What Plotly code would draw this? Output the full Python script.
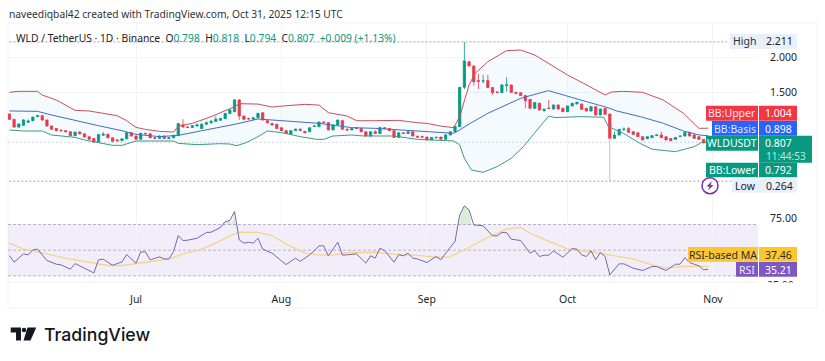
import pandas as pd
import plotly.graph_objects as go

BASE = pd.Timestamp("2025-07-01")
def dates(days):
    return [BASE + pd.Timedelta(days=float(d)) for d in days]

candle_days = list(range(-27, 123))
opens = [1.203,1.128,1.02,1.045,1.087,1.11,1.165,1.18,1.119,1.035,
         1.0,.975,.97,.955,.90,.95,.925,.885,.86,.81,
         .905,.92,.87,.84,.83,.855,.94,.895,.85,.93,
         .925,.87,.862,.895,.86,.87,.90,1.05,1.02,1.015,
         1.035,1.0,1.06,1.08,1.10,1.115,1.14,1.21,1.235,1.40,
         1.174,1.14,1.13,1.15,1.22,1.109,1.07,1.06,1.01,.97,
         .92,.97,.99,.96,.955,1.03,1.025,1.09,1.08,.98,
         1.05,1.11,.99,.98,1.01,1.0,.955,.895,.955,.93,
         1.01,1.0,.97,.875,.94,.93,.955,.89,.885,.88,
         .84,.87,.88,.85,.91,.955,1.026,1.576,1.935,1.874,
         1.67,1.665,1.67,1.572,1.51,1.502,1.60,1.609,1.506,1.50,
         1.46,1.408,1.283,1.353,1.25,1.285,1.273,1.329,1.283,1.236,
         1.315,1.343,1.342,1.282,1.244,1.305,1.19,1.282,1.202,.862,
         .909,.99,.998,.955,.94,.886,.858,.872,.90,.91,
         .885,.86,.848,.89,.895,.945,.91,.885,.848,.798]
closes = [1.128,1.02,1.063,1.119,1.105,1.16,1.18,1.119,1.035,.99,
          .97,.97,.955,.90,.95,.925,.88,.85,.81,.915,
          .92,.87,.82,.83,.855,.94,.895,.85,.932,.925,
          .87,.865,.895,.86,.87,.905,1.07,1.02,1.015,1.04,
          1.05,1.06,1.08,1.10,1.13,1.14,1.21,1.26,1.40,1.175,
          1.128,1.135,1.15,1.212,1.118,1.08,1.05,1.0,.97,.93,
          .97,.99,.975,.94,1.01,1.035,1.09,1.085,.98,1.05,
          1.118,.99,.98,1.0,1.0,.955,.895,.955,.93,1.015,
          1.0,.97,.875,.94,.93,.955,.895,.88,.88,.84,
          .875,.875,.85,.91,.955,1.03,1.576,1.945,1.874,1.655,
          1.66,1.665,1.572,1.502,1.505,1.609,1.61,1.506,1.49,1.46,
          1.39,1.283,1.362,1.26,1.27,1.28,1.329,1.273,1.236,1.315,
          1.353,1.367,1.268,1.244,1.305,1.19,1.272,1.198,.862,.909,
          .988,.99,.946,.918,.886,.84,.886,.90,.91,.872,
          .84,.83,.876,.895,.945,.895,.862,.848,.798,.807]
highs = [1.21,1.13,1.07,1.13,1.125,1.165,1.19,1.19,1.125,1.04,
         1.005,.99,.98,.96,.955,.965,.93,.89,.865,.925,
         .95,.925,.875,.85,.86,.95,.955,.90,.94,.945,
         .935,.88,.905,.90,.88,.91,1.07,1.13,1.03,1.05,
         1.07,1.07,1.10,1.12,1.17,1.15,1.22,1.27,1.41,1.41,
         1.18,1.15,1.16,1.215,1.225,1.115,1.08,1.065,1.015,.975,
         .975,1.0,1.0,.965,1.015,1.045,1.095,1.10,1.09,1.055,
         1.125,1.12,1.0,1.005,1.015,1.005,.96,.96,.975,1.02,
         1.02,1.005,.975,.945,.945,.96,.96,.90,.90,.885,
         .88,.89,.885,.915,.96,1.035,1.58,2.211,1.94,1.88,
         1.76,1.75,1.75,1.58,1.52,1.62,1.716,1.61,1.51,1.505,
         1.47,1.41,1.37,1.36,1.28,1.40,1.335,1.335,1.29,1.32,
         1.36,1.375,1.35,1.29,1.31,1.31,1.28,1.29,1.21,.96,
         .995,1.015,1.02,.96,.945,.89,.89,.905,.915,.955,
         .89,.865,.88,.90,.95,.96,.915,.89,.853,.818]
lows = [1.12,1.015,1.015,1.04,1.08,1.10,1.16,1.11,1.03,.985,
        .96,.96,.95,.895,.895,.92,.875,.845,.80,.805,
        .90,.865,.815,.82,.825,.85,.89,.845,.845,.92,
        .865,.86,.855,.855,.855,.865,.895,1.015,1.01,1.01,
        1.03,.995,1.05,1.07,1.09,1.11,1.135,1.20,1.23,1.12,
        1.115,1.12,1.125,1.145,1.115,1.07,1.04,.995,.965,.925,
        .915,.965,.97,.935,.95,1.025,1.02,1.075,.975,.975,
        1.045,.985,.97,.975,.995,.95,.89,.89,.925,.925,
        .995,.965,.87,.87,.925,.925,.89,.875,.87,.835,
        .835,.865,.845,.845,.905,.95,1.02,1.55,1.87,1.60,
        1.55,1.63,1.565,1.47,1.50,1.49,1.515,1.50,1.48,1.455,
        1.28,1.27,1.27,1.25,1.235,1.27,1.265,1.265,1.23,1.23,
        1.31,1.34,1.26,1.24,1.24,1.18,1.185,1.19,.862,.855,
        .905,.965,.94,.915,.88,.835,.855,.868,.895,.868,
        .835,.825,.845,.885,.89,.89,.858,.843,.793,.794]
long_wick_days = [101, 101]
long_wick_vals = [.862, .264]

upper_days = [-27,-25,-21,-20,-17,-13,-10,-7,-4,-2,0,2,5,8,9,12,16,21,22,26,29,32,36,39,41,45,47,51,56,60,62,65,67.7,69,71,72.3,75,79,82,85,89,92,95.4,98.2,100,101.4,103.9,108,112.4,116.7,120,122]
upper_vals = [1.506,1.52,1.52,1.468,1.398,1.254,1.245,1.207,1.179,1.109,1.016,.988,.96,.951,1.035,1.072,1.165,1.305,1.347,1.342,1.30,1.319,1.338,1.328,1.221,1.175,1.109,1.109,1.114,1.081,1.072,1.034,1.012,1.166,1.609,1.772,1.935,2.089,2.098,2.028,1.865,1.749,1.632,1.539,1.469,1.511,1.52,1.506,1.399,1.213,1.003,1.004]
basis_days = [-27,-21,-18,-13,-8,-3,0,5,9,14,21,26,32,39,46,51,60,65,67.7,69,71,75,82,87.9,91,96,100.4,102.5,107.5,112.4,116.7,120,122]
basis_vals = [1.245,1.24,1.189,1.109,1.039,.969,.918,.886,.904,.969,1.058,1.133,1.109,1.072,1.012,1.002,.965,.941,.933,.979,1.063,1.212,1.422,1.53,1.469,1.376,1.296,1.245,1.166,1.073,.965,.91,.898]
lower_days = [-27,-24,-20,-18,-13,-11,-8,-5,-3,0,8,9,13,18,20,21.5,23.6,26,28,31,35,38.5,40,42,46,48.5,55,60,67.7,69,70,71.5,74,77,80,82.6,85.5,88,89.3,94.7,99.7,100.7,103.9,107.5,110,115,119,121,122]
lower_vals = [.979,.965,.965,.909,.876,.839,.802,.764,.764,.825,.825,.792,.774,.788,.783,.76,.806,.886,.965,.942,.886,.848,.848,.895,.909,.895,.895,.848,.826,.77,.583,.42,.387,.467,.583,.746,.98,1.175,1.152,1.166,1.157,1.026,.933,.79,.71,.676,.746,.82,.792]

rsi_days = [-27,-26,-24,-23,-22,-21,-19,-17,-16,-14,-13,-12,-9,-8,-7,-5,-3,-2,0,1,2,3,5,6,7,8,9,10,11,13,15,16,18,19,20,21,22,23,24,25,26,27,29,31,32,34,35,37,38,39,40,41,43,44,47,49,50,51,52,53,55,56,57,58,59,60,62,64,65,66,68,69,70,71,72,74,76,77,78,79,80,82,84,85,86,87,88,89,91,93,94,95,96,97,98,99,100,101,103,104,106,108,110,111,113,115,116,117,118,120,121,122]
rsi_vals = [45.8,40.7,47.1,46.4,50.3,50.8,42,39.1,38.6,35.2,39.6,37.8,32.3,42.5,43,38.3,40.9,46.6,39.9,48.7,48.7,42.5,44.8,43.2,43.2,49,61.4,57.5,57.8,59.3,63.8,64,67.7,72.3,73.1,80.1,58,55.5,56.2,55.5,59.3,50.8,47.7,41.7,38.8,43.8,41.2,46.4,49.5,53.4,53.4,45.6,56.2,46.1,47.1,39.9,45.6,43.8,51.6,49.7,40.7,46.6,45.6,47.7,43.8,43.2,40.4,45.1,42.5,47.7,56.8,77.5,84.5,81.4,69.7,69,61.2,61.2,63.8,63.8,58.6,57.5,47.7,49.7,45.1,46.1,46.1,49.5,44.5,51.3,50.8,46.4,45.1,49.5,42.5,48.2,45.1,30.8,39.4,39.4,36,34.2,37.3,37.3,34.2,39.1,39.1,44.3,40.4,37.8,34.7,35.21]
rsi_ma_days = [-27,-24,-22,-19,-15,-10.6,-6,-3,1,4,7,10,14,17,20,22,26,29,32,36,39,42,45,51,56,60.6,64,66.9,70,75,79,82,84,88,92,97.5,103,106,110,113,116.7,122]
rsi_ma_vals = [55.5,50.8,49.5,47.1,43.8,40.9,38.1,38.1,39.9,41.7,43,47.1,50.8,55.5,61.2,64,63.8,61.4,54.7,47.7,46.1,46.1,48.2,48.4,46.6,45.8,44.5,44.8,50.3,60.1,66.4,67.7,63.2,56.8,51,48.4,45.1,43.2,38.6,36,37.3,37.46]
overbought_days = [18.6,19,20,20.4,21,21.2,68.9,69,70,71,71.5]
overbought_vals = [70,72.3,73.1,70,80.1,70,70,77.5,84.5,81.4,70]

month_ticks = ["2025-07-01","2025-08-01","2025-09-01","2025-10-01","2025-11-01"]
month_labels = ["Jul","Aug","Sep","Oct","Nov"]
price_ticks = [2.0, 1.5]
price_labels = ["2.000","1.500"]
rsi_ticks = [75]
rsi_labels = ["75.00"]

GREEN, RED, BLUE, PURPLE, YELLOW = "#089981","#f23645","#2962ff","#7e57c2","#fdc62f"
PL, PR, PT, PB = 8, 758, 23, 282
W, H = 825, 361
def px(x): return (x-PL)/(PR-PL)
def py(y): return 1-(y-PT)/(PB-PT)
SPLIT = 190
FONT = "Noto Sans"

fig = go.Figure()
fig.add_trace(go.Scatter(x=dates(upper_days), y=upper_vals, mode="lines", line=dict(color="#c9505b", width=1), hoverinfo="skip"))
fig.add_trace(go.Scatter(x=dates(lower_days), y=lower_vals, mode="lines", line=dict(color="#3d9a87", width=1),
                         fill="tonexty", fillcolor="rgba(33,150,243,0.05)", hoverinfo="skip"))
fig.add_trace(go.Scatter(x=dates(basis_days), y=basis_vals, mode="lines", line=dict(color="#3f6fc4", width=1), hoverinfo="skip"))
fig.add_trace(go.Scatter(x=dates(long_wick_days), y=long_wick_vals, mode="lines", line=dict(color="#e9b4ba", width=1), hoverinfo="skip"))
fig.add_trace(go.Candlestick(x=dates(candle_days), open=opens, high=highs, low=lows, close=closes,
    increasing=dict(line=dict(color=GREEN, width=0.8), fillcolor=GREEN),
    decreasing=dict(line=dict(color=RED, width=0.8), fillcolor=RED),
    whiskerwidth=0, hoverinfo="skip"))
fig.add_trace(go.Scatter(x=dates(overbought_days), y=overbought_vals, yaxis="y2", mode="none", fill="toself",
                         fillcolor="rgba(76,175,80,0.22)", hoverinfo="skip"))
fig.add_trace(go.Scatter(x=dates(rsi_ma_days), y=rsi_ma_vals, yaxis="y2", mode="lines", line=dict(color="#f3d48a", width=1.3), hoverinfo="skip"))
fig.add_trace(go.Scatter(x=dates(rsi_days), y=rsi_vals, yaxis="y2", mode="lines", line=dict(color="#7a66ac", width=1), hoverinfo="skip"))

def rect(x0,y0,x1,y1,fill,line=None,layer="above"):
    return dict(type="rect",xref="paper",yref="paper",x0=px(x0),x1=px(x1),y0=py(y0),y1=py(y1),
                fillcolor=fill,line=dict(width=0 if line is None else 1,color=line or fill),layer=layer)

shapes = [
    rect(8,23,817,308,"rgba(0,0,0,0)","#f2f3f6","below"),
    dict(type="line",xref="paper",yref="paper",x0=0,x1=1,y0=py(PB),y1=py(PB),line=dict(color="#eef0f3",width=1),layer="below"),
    dict(type="rect",xref="paper",yref="y2",x0=0,x1=1,y0=30,y1=70,fillcolor="rgba(126,87,194,0.1)",line=dict(width=0),layer="below"),
]
for lvl in (70,50,30):
    shapes.append(dict(type="line",xref="paper",yref="y2",x0=0,x1=1,y0=lvl,y1=lvl,line=dict(color="#b9b2cf",width=1,dash="3px,2px"),layer="below"))
shapes.append(dict(type="line",xref="x",yref="y",x0=BASE+pd.Timedelta(days=-27),x1=BASE+pd.Timedelta(days=126),y0=2.211,y1=2.211,line=dict(color="#9aa0ab",width=1,dash="2px,2px")))
shapes.append(dict(type="line",xref="x",yref="y",x0=BASE+pd.Timedelta(days=-27),x1=BASE+pd.Timedelta(days=127),y0=.264,y1=.264,line=dict(color="#9aa0ab",width=1,dash="2px,2px")))
shapes.append(dict(type="line",xref="paper",yref="y",x0=0,x1=1,y0=.807,y1=.807,line=dict(color="rgba(120,130,130,0.3)",width=1,dash="2px,2px"),layer="below"))

anns = []
def text(x,y,s,size=10.5,color="#1f2328",anchor="center",weight=None,font=FONT):
    f=dict(family=font,size=size,color=color)
    if weight: f["weight"]=weight
    anns.append(dict(xref="paper",yref="paper",x=px(x),y=py(y),text=s,showarrow=False,xanchor=anchor,yanchor="middle",font=f,borderpad=0,borderwidth=0))

LIGHT = "#e8f0fb"
shapes += [rect(730,34,797,49,LIGHT), rect(732,178.5,797,192.5,LIGHT)]
shapes += [rect(706,105.7,758,120.7,RED), rect(759,105.7,797,120.7,RED)]
shapes += [rect(712,121,758,135.7,BLUE), rect(759,121,797,135.7,BLUE)]
shapes += [rect(706,135.7,758,150.7,GREEN), rect(759,135.7,812,162.7,GREEN)]
shapes += [rect(706,162.7,758,177.3,GREEN), rect(759,162.7,797,177.3,GREEN)]
shapes += [rect(688,247,758,261.7,YELLOW), rect(759,247,797,261.7,YELLOW)]
shapes += [rect(736,262,758,276.7,PURPLE), rect(759,262,797,276.7,PURPLE)]
shapes.append(dict(type="circle",xref="paper",yref="paper",x0=px(702),x1=px(718),y0=py(193.7),y1=py(177.7),fillcolor="white",line=dict(color="#7b2d9e",width=1.5)))
bolt = [(712,181),(706.5,186.5),(709.5,186.5),(708,190.5),(713.5,185),(710.5,185)]
bolt_path = "M"+" L".join(f"{px(a):.4f},{py(b):.4f}" for a,b in bolt)+" Z"
shapes.append(dict(type="path",xref="paper",yref="paper",path=bolt_path,fillcolor="#7b2d9e",line=dict(width=0)))
logo = [
    [(10.7,327.5),(21,327.5),(21,340.5),(16,340.5),(16,332.5),(10.7,332.5)],
    [(27.5,327.5),(36.2,327.5),(30.5,340.5),(23.5,340.5)],
]
for poly in logo:
    shapes.append(dict(type="path",xref="paper",yref="paper",path="M"+" L".join(f"{px(a):.4f},{py(b):.4f}" for a,b in poly)+" Z",fillcolor="#131722",line=dict(width=0)))
shapes.append(dict(type="circle",xref="paper",yref="paper",x0=px(21.7),x1=px(26.3),y0=py(332.3),y1=py(327.7),fillcolor="#131722",line=dict(width=0)))

text(9,14,"naveediqbal42 created with TradingView.com, Oct 31, 2025 12:15 UTC",size=10.25,color="#2e3238",anchor="left")
G=GREEN
text(16,38,f"WLD / TetherUS · 1D · Binance  O<span style='color:{G}'>0.798</span>  H<span style='color:{G}'>0.818</span>  L<span style='color:{G}'>0.794</span>  C<span style='color:{G}'>0.807</span>  <span style='color:{G}'>+0.009 (+1.13%)</span>",size=10.3,anchor="left")
text(744,41.5,"High",color="#2a2e39")
text(779,41.5,"2.211")
text(745,185.5,"Low")
text(779,185.5,"0.264")
text(732,113,"BB:Upper",color="#ffe6e8")
text(778,113,"1.004",color="white")
text(735,128.5,"BB:Basis",color="#dfe8ff")
text(778,128.5,"0.898",color="white")
text(732,143,"WLDUSDT",color="white")
text(778,143,"0.807",color="white")
text(785.5,155.5,"11:44:53",color="#bfe6de",size=10)
text(732,170,"BB:Lower",color="white")
text(778,170,"0.792",color="white")
text(723,254.5,"RSI-based MA",color="#2a2e39")
text(778,254.5,"37.46",color="#2a2e39")
text(747,269.5,"RSI",color="#f0e9ff")
text(778,269.5,"35.21",color="white")
text(780,284.5,"25.00")
anns.append(dict(xref="paper",yref="paper",x=px(780),y=py(291),text=" ",showarrow=False,width=40,height=16,bgcolor="white",xanchor="center",yanchor="middle",borderpad=0))
text(44,334,"TradingView",size=17.7,color="#131722",anchor="left",weight=500,font="Inter")

fig.update_layout(
    width=W, height=H, margin=dict(l=PL,r=W-PR,t=PT,b=H-PB,pad=0), showlegend=False,
    paper_bgcolor="white", plot_bgcolor="white",
    shapes=shapes, annotations=anns, hovermode=False,
    font=dict(family=FONT,size=10.5,color="#1f2328"),
    xaxis=dict(type="date",anchor="y2",range=[BASE+pd.Timedelta(days=-27.3),BASE+pd.Timedelta(days=132.6)],
               rangeslider=dict(visible=False),tickmode="array",tickvals=month_ticks,ticktext=month_labels,
               showgrid=True,gridcolor="#f3f4f6",gridwidth=1,zeroline=False,showline=False,
               ticks="outside",ticklen=7,tickcolor="rgba(0,0,0,0)"),
    yaxis=dict(domain=[py(SPLIT),1],range=[2-(SPLIT-57)/71.5,2-(PT-57)/71.5],side="right",anchor="x",
               tickmode="array",tickvals=price_ticks,ticktext=price_labels,showgrid=True,gridcolor="#f3f4f6",
               zeroline=False,ticks="outside",ticklen=9,tickcolor="rgba(0,0,0,0)"),
    yaxis2=dict(domain=[0,py(SPLIT)],range=[50-(PB-250.2)/1.285,50-(SPLIT-250.2)/1.285],side="right",anchor="x",
                tickmode="array",tickvals=rsi_ticks,ticktext=rsi_labels,showgrid=False,zeroline=False,
                ticks="outside",ticklen=9,tickcolor="rgba(0,0,0,0)"),
)
fig.write_html("out.html", config=dict(displayModeBar=False), post_script="document.body.style.margin='0';")
